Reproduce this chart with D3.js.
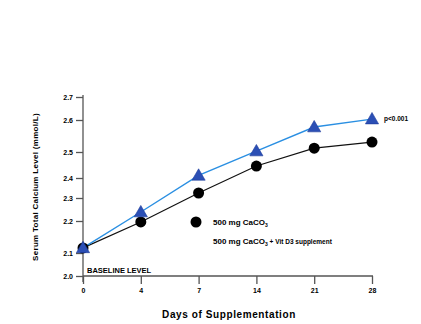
<!DOCTYPE html>
<html>
<head>
<meta charset="utf-8">
<script src="https://cdn.jsdelivr.net/npm/d3@7"></script>
<style>
  body { margin: 0; background: #fff; }
  svg { display: block; font-family: "Liberation Sans", Arial, sans-serif; font-weight: bold; }
</style>
</head>
<body>
<svg id="chart" width="421" height="324"></svg>
<script>
// days of supplementation (drawn as evenly spaced categories)
const days = ['0', '4', '7', '14', '21', '28'];
// serum calcium, both groups
const calciumOnly = [2.116, 2.197, 2.325, 2.446, 2.512, 2.531];
const calciumVitD = [2.116, 2.239, 2.41, 2.503, 2.578, 2.604];
// y tick labels as printed (spacing on the original axis is uneven)
const yTicks = [2.7, 2.6, 2.5, 2.4, 2.3, 2.2, 2.1, 2.0];

const svg = d3.select('#chart');

const x = d3.scalePoint()
  .domain(days)
  .range([83, 372]);

// piecewise linear scale so the ticks land where the original put them
const y = d3.scaleLinear()
  .domain(yTicks)
  .range([97, 120, 152, 178, 198, 221, 253, 276]);

const axisColor = '#555';

// x axis
const gx = svg.append('g')
  .attr('transform', 'translate(0,276)')
  .call(d3.axisBottom(x).tickSize(8).tickPadding(4));
gx.selectAll('text').attr('font-size', 7).attr('font-weight', 'bold').attr('fill', '#000');

// y axis
const gy = svg.append('g')
  .attr('transform', 'translate(83,0)')
  .call(d3.axisLeft(y).tickValues(yTicks).tickFormat(d3.format('.1f')).tickSize(7).tickPadding(3));
gy.selectAll('text').attr('font-size', 7).attr('font-weight', 'bold').attr('fill', '#000');

[gx, gy].forEach(g => {
  g.select('.domain').attr('stroke', axisColor).attr('stroke-width', 1.3);
  g.selectAll('.tick line').attr('stroke', axisColor).attr('stroke-width', 1.3);
});
// y axis runs a little below the x axis
gy.select('.domain').attr('d', 'M0,95V282');
gx.select('.domain').attr('d', 'M83,0H373');

// axis titles
svg.append('text')
  .attr('x', 229)
  .attr('y', 318)
  .attr('text-anchor', 'middle')
  .attr('font-size', 10)
  .attr('letter-spacing', 0.6)
  .text('Days of Supplementation');

svg.append('text')
  .attr('transform', 'translate(38,187) rotate(-90)')
  .attr('text-anchor', 'middle')
  .attr('font-size', 8)
  .attr('letter-spacing', 0.3)
  .text('Serum Total Calcium Level (mmol/L)');

// lines
const line = d3.line()
  .x((d, i) => x(days[i]))
  .y(d => y(d));

svg.append('path')
  .datum(calciumOnly)
  .attr('fill', 'none')
  .attr('stroke', '#111')
  .attr('stroke-width', 1.2)
  .attr('d', line);

svg.append('path')
  .datum(calciumVitD)
  .attr('fill', 'none')
  .attr('stroke', '#2a8fe2')
  .attr('stroke-width', 1.4)
  .attr('d', line);

// markers
svg.append('g').selectAll('circle')
  .data(calciumOnly)
  .join('circle')
  .attr('cx', (d, i) => x(days[i]))
  .attr('cy', d => y(d))
  .attr('r', 5.5)
  .attr('fill', '#000');

const tri = d3.symbol().type(d3.symbolTriangle).size(75);
svg.append('g').selectAll('path')
  .data(calciumVitD)
  .join('path')
  .attr('transform', (d, i) => 'translate(' + x(days[i]) + ',' + (y(d) + 1) + ')')
  .attr('d', tri)
  .attr('fill', '#2b4fb5')
  .attr('stroke', '#1c3a9a')
  .attr('stroke-width', 0.6);

// annotations
svg.append('text')
  .attr('x', 87)
  .attr('y', 273)
  .attr('font-size', 7.5)
  .text('BASELINE LEVEL');

svg.append('text')
  .attr('x', x(days[days.length - 1]) + 12)
  .attr('y', y(calciumVitD[calciumVitD.length - 1]) + 2)
  .attr('font-size', 6.5)
  .text('p<0.001');

// legend
svg.append('circle')
  .attr('cx', 196)
  .attr('cy', 222)
  .attr('r', 5.5)
  .attr('fill', '#000');

const leg1 = svg.append('text')
  .attr('x', 213)
  .attr('y', 225)
  .attr('font-size', 8);
leg1.append('tspan').text('500 mg CaCO');
leg1.append('tspan').attr('font-size', 5).attr('dy', 2).text('3');

const leg2 = svg.append('text')
  .attr('x', 213)
  .attr('y', 244)
  .attr('font-size', 8);
leg2.append('tspan').text('500 mg CaCO');
leg2.append('tspan').attr('font-size', 5).attr('dy', 2).text('3');
leg2.append('tspan').attr('dy', -2).attr('font-size', 6.5).text('  + Vit D3 supplement');
</script>
</body>
</html>
